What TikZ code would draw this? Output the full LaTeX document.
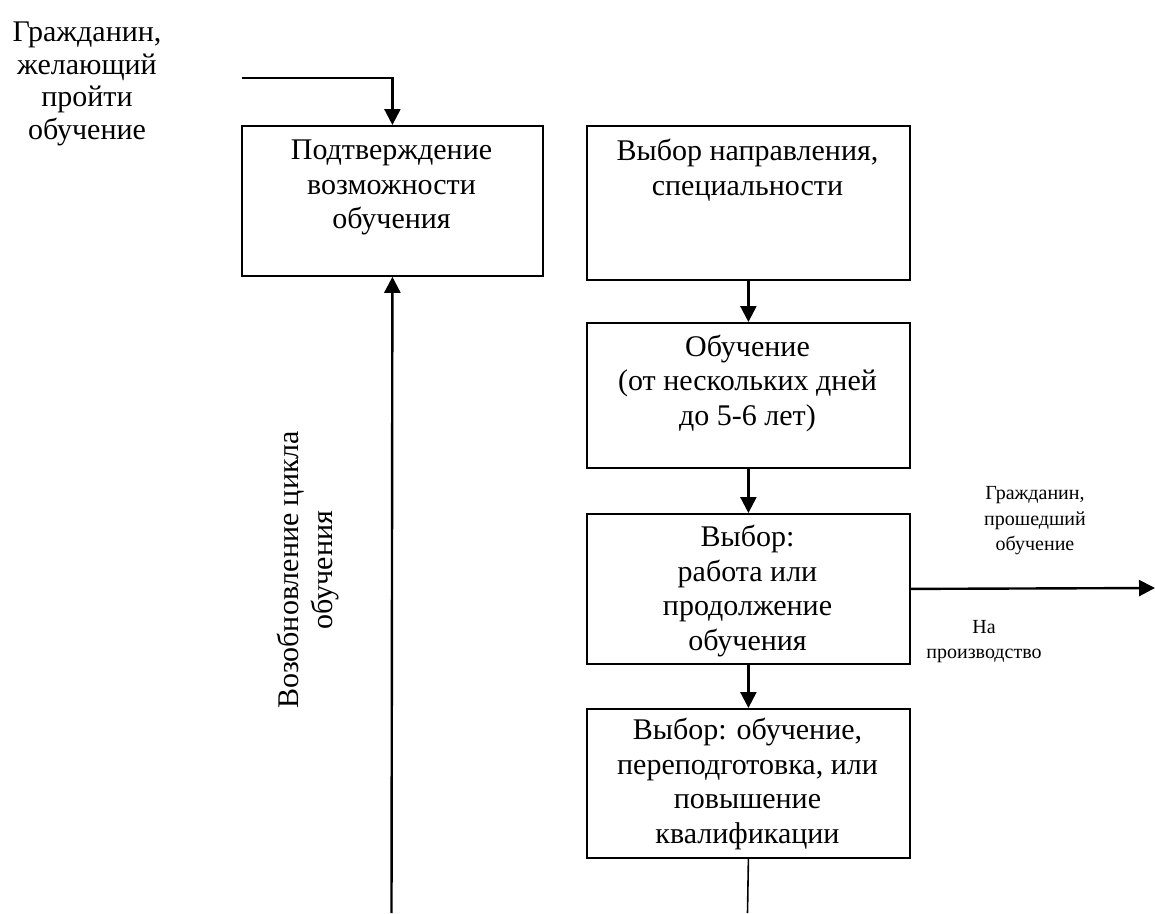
\documentclass[tikz,border=0pt]{standalone}
\usepackage{fontspec}
\setmainfont{Liberation Serif}
\usetikzlibrary{arrows.meta}
\begin{document}
\begin{tikzpicture}[x=1pt,y=-1pt,
  box/.style={draw=black,line width=1.8pt,inner sep=0pt,anchor=north west},
  lbl/.style={align=center,inner sep=0pt,font=\fontsize{30}{34.5}\selectfont},
  small/.style={align=center,inner sep=0pt,font=\fontsize{20}{25.5}\selectfont},
  arr/.style={line width=2.4pt,-{Triangle[width=16pt,length=16pt]}},
  plain/.style={line width=1.6pt}]
\useasboundingbox (0,0) rectangle (1155,913);
% boxes
\node[box,minimum width=301pt,minimum height=150pt] (b1) at (241,125) {};
\node[box,minimum width=323pt,minimum height=154pt] (b2) at (586,125) {};
\node[box,minimum width=323pt,minimum height=145pt] (b3) at (586,322) {};
\node[box,minimum width=323pt,minimum height=150pt] (b4) at (586,513) {};
\node[box,minimum width=323pt,minimum height=149pt] (b5) at (586,708) {};
% box texts
\node[lbl] (t1) at (391.5,187.5) {Подтверждение\\возможности\\обучения};
\node[lbl] (t2) at (747.5,170) {Выбор направления,\\специальности};
\node[lbl] (t3) at (747.5,383) {Обучение\\(от нескольких дней\\до 5-6 лет)};
\node[lbl] (t4) at (747.5,591) {Выбор:\\работа или\\продолжение\\обучения};
\node[lbl] (t5) at (747.5,784) {Выбор: обучение,\\переподготовка, или\\повышение\\квалификации};
% outside labels
\node[lbl,font=\fontsize{30}{32.5}\selectfont] (tin) at (87,84) {Гражданин,\\желающий\\пройти\\обучение};
\node[small] (tout) at (1035,521) {Гражданин,\\прошедший\\обучение};
\node[small] (tprod) at (984,641.5) {На\\производство};
\node[lbl,rotate=90] (tloop) at (308,570) {Возобновление цикла\\обучения};
% coordinates
\coordinate (in) at (242,78);
\coordinate (out) at (1155,588);
\coordinate (bot5) at (747.5,913);
\coordinate (bot1) at (391.5,913);
% connectors
\draw[arr] (in) -| (b1.north);
\draw[arr] (b2.south) -- (b3.north);
\draw[arr] (b3.south) -- (b4.north);
\draw[arr] (b4.south) -- (b5.north);
\draw[arr] (b4.east) -- (out);
\draw[plain] (b5.south) -- (bot5);
\draw[arr] (bot1) -- (b1.south);
\end{tikzpicture}
\end{document}
